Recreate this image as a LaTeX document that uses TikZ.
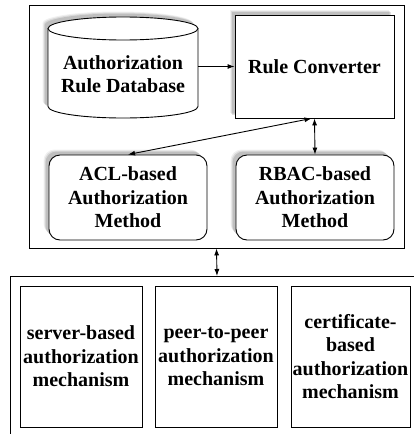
\documentclass[tikz,border=0pt]{standalone}
\usepackage{fontspec}
\setmainfont{Liberation Serif}
\usetikzlibrary{arrows.meta,shadows}
\begin{document}
\begin{tikzpicture}[x=1pt,y=-1pt,
  txt/.style={font=\bfseries\fontsize{20}{23.5}\selectfont, align=center, inner sep=0pt},
  frame/.style={draw, line width=0.9pt},
  soft/.style={
    drop shadow={shadow xshift=-5.5pt,shadow yshift=5.5pt,fill=black,opacity=0.06,shadow scale=1},
    drop shadow={shadow xshift=-4.5pt,shadow yshift=4.5pt,fill=black,opacity=0.09,shadow scale=1},
    drop shadow={shadow xshift=-3.5pt,shadow yshift=3.5pt,fill=black,opacity=0.12,shadow scale=1}},
  tip/.tip={Latex[length=7pt,width=5pt]},
  link/.style={line width=0.9pt, -tip},
  both/.style={line width=0.9pt, tip-tip}]
\useasboundingbox (0,0) rectangle (414,434);
\clip (0,0) rectangle (414,434);

% enclosing frames
\node[frame, minimum width=375pt, minimum height=243pt] (top) at (216.5,126.5) {};
\node[frame, minimum width=414pt, minimum height=170pt, anchor=north] (bottom) at (217,276) {};

% database cylinder
\path[soft, fill=white] (48,28.5) -- (48,106.5)
  arc[start angle=180, end angle=360, x radius=75pt, y radius=11.5pt]
  -- (198,28.5)
  arc[start angle=0, end angle=180, x radius=75pt, y radius=11.5pt] -- cycle;
\draw[line width=0.9pt] (48,28.5) -- (48,106.5)
  arc[start angle=180, end angle=360, x radius=75pt, y radius=11.5pt]
  -- (198,28.5);
\draw[line width=0.9pt] (123,28.5) ellipse [x radius=75pt, y radius=11.5pt];
\node[txt, minimum width=150pt] (db) at (123,74) {Authorization\\Rule Database};

% converter and authorization methods
\node[txt, frame, soft, fill=white, minimum width=159pt, minimum height=103pt] (rc) at (314.5,66.5) {Rule Converter};
\node[txt, frame, soft, fill=white, rounded corners=11pt, minimum width=158pt, minimum height=85pt] (acl) at (128,197.5) {ACL-based\\Authorization\\Method};
\node[txt, frame, soft, fill=white, rounded corners=11pt, minimum width=158pt, minimum height=85pt] (rbac) at (315,197.5) {RBAC-based\\Authorization\\Method};

% mechanisms
\node[txt, frame, minimum width=122pt, minimum height=141pt] (srv) at (81,356.5) {server-based\\authorization\\mechanism};
\node[txt, frame, minimum width=122pt, minimum height=141pt] (p2p) at (216,356.5) {peer-to-peer\\authorization\\mechanism};
\node[txt, frame, minimum width=119pt, minimum height=141pt] (cert) at (350.5,356.5) {certificate-\\based\\authorization\\mechanism};

% connectors
\draw[link] (db.east |- rc.west) -- (rc.west);
\draw[both] ([xshift=-3pt]rc.south) -- (acl.north);
\draw[both] (rc.south) -- (rbac.north);
\draw[both] (top.south) -- (bottom.north);
\end{tikzpicture}
\end{document}
